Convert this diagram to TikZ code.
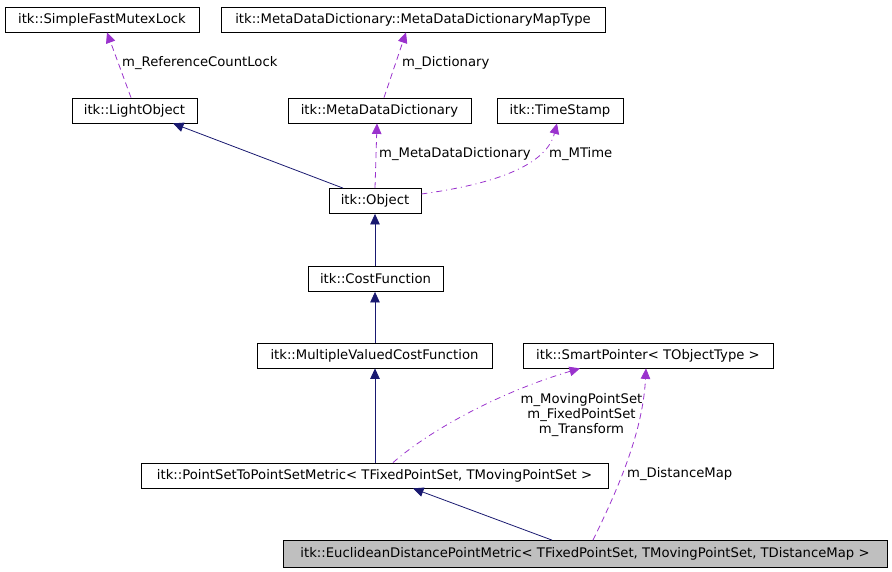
\documentclass[tikz,border=0pt]{standalone}
\usepackage{fontspec}
\setmainfont{DejaVu Sans}
\usetikzlibrary{arrows.meta,calc}
\definecolor{navy}{HTML}{191970}
\definecolor{orch}{HTML}{9A32CD}
\definecolor{boxgray}{HTML}{BFBFBF}
\begin{document}
\begin{tikzpicture}[x=1pt,y=-1pt,
  box/.style={draw=black, line width=0.8pt, inner sep=0pt, minimum height=25pt,
    font=\fontsize{13.2}{15}\selectfont, fill=white},
  lbl/.style={font=\fontsize{13.2}{15}\selectfont, inner sep=0pt},
  inh/.style={draw=navy, line width=0.8pt, -{Triangle[length=10.5pt,width=9.5pt]}},
  usedash/.style={draw=orch, line width=0.8pt, dash pattern=on 6pt off 4pt,
    -{Triangle[length=10.5pt,width=9.5pt]}},
  usedot/.style={draw=orch, line width=0.8pt, dash pattern=on 6pt off 4pt on 1pt off 4pt,
    -{Triangle[length=10.5pt,width=9.5pt]}}
]
\useasboundingbox (0,0) rectangle (892,571);

\node[box, minimum width=194pt] (mutex) at (102,19.5) {itk::SimpleFastMutexLock};
\node[box, minimum width=384pt] (maptype) at (413,19.5) {itk::MetaDataDictionary::MetaDataDictionaryMapType};
\node[box, minimum width=125pt] (light) at (134.5,110.5) {itk::LightObject};
\node[box, minimum width=183pt] (mdd) at (379.5,110.5) {itk::MetaDataDictionary};
\node[box, minimum width=126pt] (ts) at (560,110.5) {itk::TimeStamp};
\node[box, minimum width=92pt] (obj) at (375,201) {itk::Object};
\node[box, minimum width=135pt] (cost) at (375.5,279) {itk::CostFunction};
\node[box, minimum width=235pt] (mvcf) at (374.5,355.5) {itk::MultipleValuedCostFunction};
\node[box, minimum width=250pt] (sp) at (648,355.5) {itk::SmartPointer< TObjectType >};
\node[box, minimum width=467pt] (ps) at (374.5,475.5) {itk::PointSetToPointSetMetric< TFixedPointSet, TMovingPointSet >};
\node[box, fill=boxgray, minimum width=604pt, minimum height=27pt] (eu) at (585,554) {itk::EuclideanDistancePointMetric< TFixedPointSet, TMovingPointSet, TDistanceMap >};

% usage edges
\draw[usedash] ($(light.north)+(-3.5,0)$) -- ($(mutex.south)+(5,0)$);
\node[lbl, anchor=west] (lrc) at (122,63) {m\_ReferenceCountLock};
\draw[usedash] ($(mdd.north)+(4.5,0)$) -- ($(maptype.south)+(-7,0)$);
\node[lbl, anchor=west] (ldict) at (402,63) {m\_Dictionary};
\draw[usedash] (obj.north) -- ($(mdd.south)+(-2.5,0)$);
\node[lbl, anchor=west] (lmdd) at (379,154) {m\_MetaDataDictionary};
\draw[usedot] ($(obj.east)+(0,-7)$) .. controls (480,186) and (545,170) .. ($(ts.south)+(-3,0)$);
\node[lbl, anchor=west] (lmt) at (549,154) {m\_MTime};
\draw[usedot] ($(ps.north)+(18.5,0)$) .. controls (430,430) and (500,392) .. ($(sp.south)+(-68,0)$);
\node[lbl, align=center] (lps) at (581.5,415) {m\_MovingPointSet\\m\_FixedPointSet\\m\_Transform};
\draw[usedash] ($(eu.north)+(8,0)$) .. controls (620,485) and (643,430) .. ($(sp.south)+(-2,0)$);
\node[lbl, anchor=west] (ldm) at (627,474) {m\_DistanceMap};

% inheritance edges
\draw[inh] ($(obj.north)+(-32,0)$) -- ($(light.south)+(38.5,0)$);
\draw[inh] (cost.north -| obj.north) -- (obj.south);
\draw[inh] (mvcf.north -| obj.north) -- (cost.south -| obj.north);
\draw[inh] (ps.north -| obj.north) -- (mvcf.south -| obj.north);
\draw[inh] ($(eu.north)+(-33,0)$) -- ($(ps.south)+(38.5,0)$);
\end{tikzpicture}
\end{document}
